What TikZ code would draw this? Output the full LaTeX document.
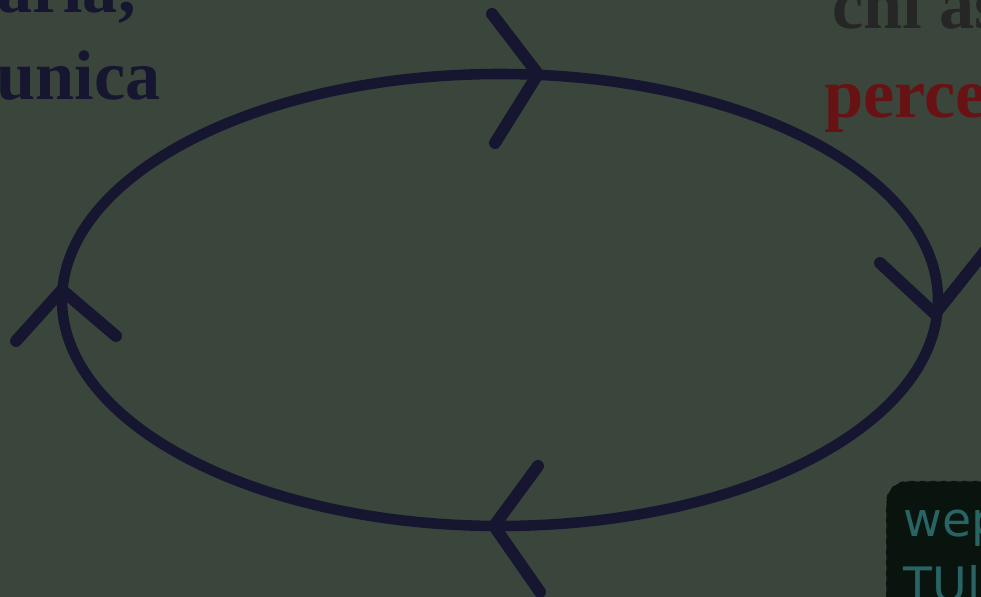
\documentclass[tikz,border=0pt]{standalone}
\usepackage{fontspec}
\setmainfont{Liberation Serif}
\newfontfamily\boxfont{DejaVu Sans}
\usepackage{xcolor}
\usetikzlibrary{positioning}
\definecolor{screen}{RGB}{58,70,60}
\definecolor{loopcol}{RGB}{22,22,48}
\definecolor{redtxt}{RGB}{105,18,20}
\definecolor{boxfill}{RGB}{10,20,15}
\definecolor{tealtxt}{RGB}{40,100,100}

\begin{document}
\begin{tikzpicture}[x=0.02cm, y=-0.02cm,
  loop/.style={draw=loopcol, line width=6pt},
  chev/.style={draw=loopcol, line width=6.8pt, line cap=round, line join=round},
  word/.style={font=\fontsize{40}{43}\selectfont\bfseries, inner sep=0pt, anchor=base west}]
\useasboundingbox (0,0) rectangle (981,597);
\clip (0,0) rectangle (981,597);
\fill[screen] (0,0) rectangle (981,597);
% words cut off by the screen edge
\node[word, anchor=base east, text=loopcol] (parla) at (136,13) {parla,};
\node[word, text=loopcol] (unica) at (-4,100) {unica};
\node[word, text=black!85] (chias) at (832,29) {chi as};
\node[word, text=redtxt] (perce) at (824,118) {perce};
% dark box in the corner
\draw[fill=boxfill, draw=gray!60!black, dashed, rounded corners=12pt] (886,481) rectangle (1010,630);
\node[font=\boxfont\fontsize{27}{29}\selectfont, text=tealtxt, inner sep=0pt, anchor=base west] (wep) at (903,537) {wep};
\node[font=\boxfont\fontsize{27}{29}\selectfont, text=tealtxt, inner sep=0pt, anchor=base west] (tulu) at (903,602) {TUlu};
% the cycle
\draw[loop] (500,300) ellipse [x radius=438, y radius=226];
\coordinate (top) at (538,74);
\coordinate (right) at (935,314);
\coordinate (bottom) at (494,526);
\coordinate (left) at (62,290);
\draw[chev] (492,14) -- (top) -- (495,143);
\draw[chev] (880,263) -- (right) -- (990,245);
\draw[chev] (538,466) -- (bottom) -- (540,592);
\draw[chev] (16,341) -- (left) -- (116,336);
\end{tikzpicture}
\end{document}
